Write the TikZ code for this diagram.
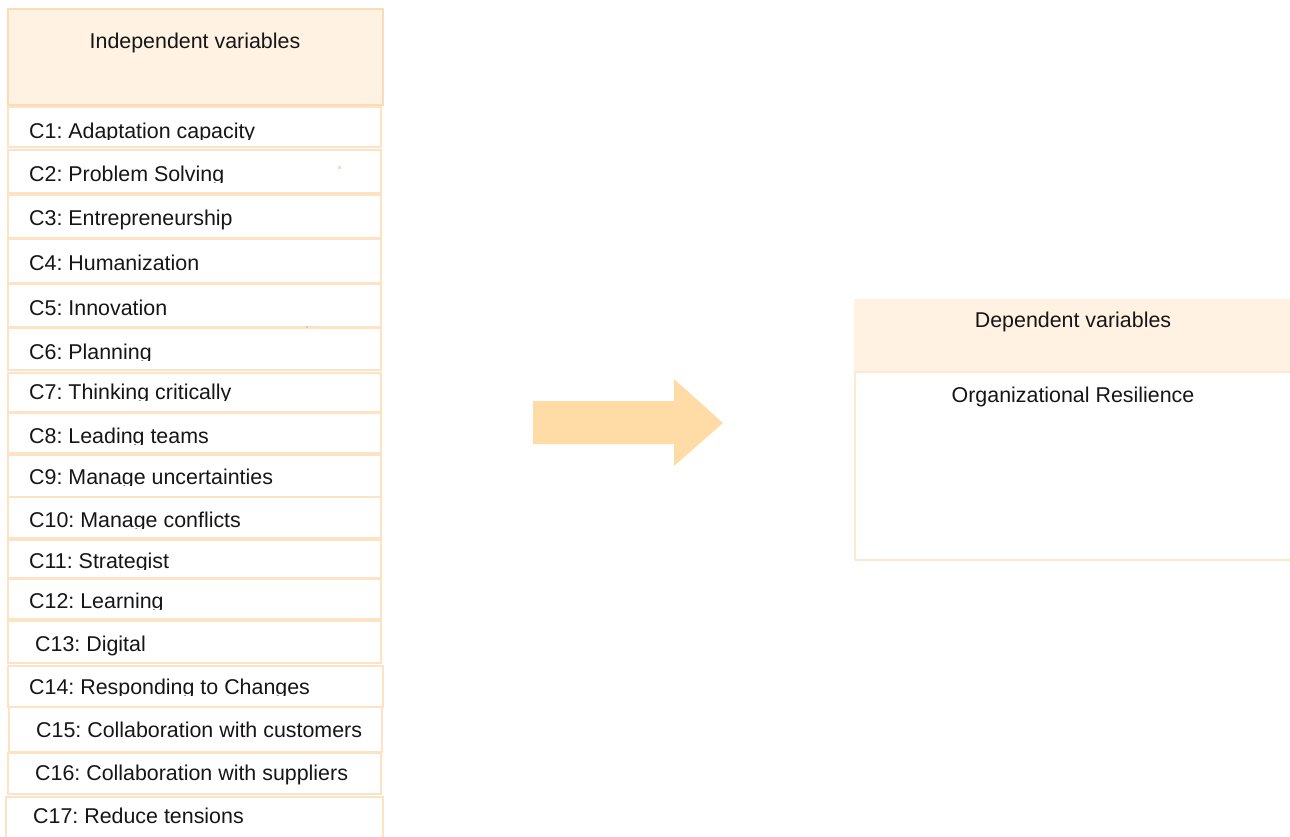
\documentclass[tikz,border=0pt]{standalone}
\usepackage{fontspec}
\setmainfont{Liberation Sans}
\frenchspacing

\definecolor{headfill}{HTML}{FFF2E3}
\definecolor{headline}{HTML}{FCDCB4}
\definecolor{rowline}{HTML}{FDE3C3}
\definecolor{bodyline}{HTML}{FDE9D0}
\definecolor{arrowfill}{HTML}{FFDBA6}
\definecolor{inktext}{HTML}{161616}

\tikzset{
  rowbox/.style={draw=rowline, line width=2pt, fill=white},
  headbox/.style={draw=headline, line width=2.5pt, fill=headfill},
  lbl/.style={inner sep=0pt, text=inktext, font=\fontsize{21.4}{25}\selectfont},
}

% one variable row: name, left, top, right, bottom, text x, baseline, text clip line, text
\newcommand\varrow[9]{%
  \path[rowbox] (#2,#3) rectangle (#4,#5);
  \begin{scope}
    \clip (0,#3) rectangle (400,#8);
    \node[lbl, anchor=base west] (#1) at (#6,#7) {#9};
  \end{scope}
}

\begin{document}
\begin{tikzpicture}[x=1pt,y=-1pt]
\useasboundingbox (0,0) rectangle (1290,836);

% independent variables column
\path[headbox] (8,9) rectangle (383,105);
\node[lbl, anchor=base] (indep) at (195,48.5) {Independent variables};

\varrow{c1}{8}{107}{381}{147}{29}{138}{139.5}{C1: Adaptation capacity}
\varrow{c2}{8}{150}{381}{193}{29}{181}{182.5}{C2: Problem Solving}
\varrow{c3}{8}{195}{381}{238}{29}{225}{238}{C3: Entrepreneurship}
\varrow{c4}{8}{239}{381}{283}{29}{270}{283}{C4: Humanization}
\varrow{c5}{8}{284}{381}{327}{29}{315.5}{327}{C5: Innovation}
\varrow{c6}{8}{328}{381}{370}{29}{359}{360.5}{C6: Planning}
\varrow{c7}{8}{373}{381}{412}{29}{399}{400.5}{C7: Thinking critically}
\varrow{c8}{8}{413}{381}{453}{29}{443}{444.5}{C8: Leading teams}
\varrow{c9}{8}{455}{381}{497}{29}{484}{485.5}{C9: Manage uncertainties}
\varrow{c10}{8}{497}{381}{538}{29}{527}{528.5}{C10: Manage conflicts}
\varrow{c11}{8}{540}{381}{578}{29}{568}{569.5}{C11: Strategist}
\varrow{c12}{8}{579}{381}{619}{29}{608}{609.5}{C12: Learning}
\varrow{c13}{8}{621}{381}{663}{35}{651.5}{663}{C13: Digital}
\varrow{c14}{8}{666}{383}{707}{29}{694}{695.5}{C14: Responding to Changes}
\varrow{c15}{9}{707}{382}{752}{36}{737.5}{752}{C15: Collaboration with customers}
\varrow{c16}{8}{753}{381}{794}{35}{780.5}{794}{C16: Collaboration with suppliers}
\varrow{c17}{6}{797}{383}{842}{33}{823.5}{842}{C17: Reduce tensions}

% small specks
\fill[headline] (338,165.5) rectangle (341,168.5);
\fill[gray!40] (306,325.5) rectangle (308,327.5);

% block arrow
\fill[arrowfill] (533,401) -- (674,401) -- (674,379) -- (723,423)
  -- (674,466) -- (674,444) -- (533,444) -- cycle;

% dependent variables
\fill[headfill] (854,299) rectangle (1290,372);
\node[lbl, anchor=base] (dep) at (1073,327.5) {Dependent variables};
\draw[bodyline, line width=1.5pt] (1292,372) -- (854.75,372) -- (854.75,560) -- (1292,560);
\node[lbl, anchor=base] (resil) at (1073,402.5) {Organizational Resilience};
\end{tikzpicture}
\end{document}
